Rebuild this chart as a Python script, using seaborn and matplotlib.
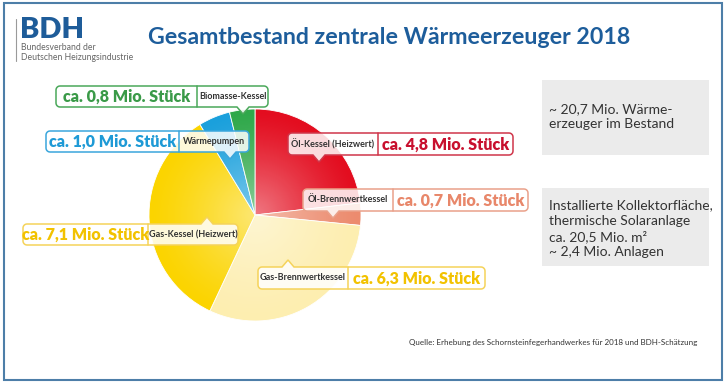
import numpy as np
import matplotlib.pyplot as plt
import seaborn as sns
from matplotlib.patches import Polygon, Rectangle, Circle

sns.set_theme(style="white")
plt.rcParams["font.family"] = ["Lato", "DejaVu Sans"]

# data
categories = ["Öl-Kessel (Heizwert)", "Öl-Brennwertkessel", "Gas-Brennwertkessel",
              "Gas-Kessel (Heizwert)", "Wärmepumpen", "Biomasse-Kessel"]
values = [4.8, 0.7, 6.3, 7.1, 1.0, 0.8]
slice_colors = ["#e30d1f", "#ec8b6e", "#fdeeb0", "#fbd400", "#1aa0dc", "#2fa84a"]
text_colors = ["#c8102e", "#e8876a", "#f2c200", "#f2c200", "#1e9ad6", "#3a9a48"]
edge_colors = ["#d0364a", "#eaa18a", "#f5d35a", "#f5d35a", "#3aa6dc", "#4aa85a"]
info_1 = ["~ 20,7 Mio. Wärme-", "erzeuger im Bestand"]
info_2 = ["Installierte Kollektorfläche,", "thermische Solaranlage",
          "ca. 20,5 Mio. m²", "~ 2,4 Mio. Anlagen"]

W, H = 728, 383
fig = plt.figure(figsize=(W / 100, H / 100), dpi=100)
ax = fig.add_axes([0, 0, 1, 1])


def Y(y):
    # pixel row (top down) -> data y
    return H - y


cx, cy, r = 255, 215, 106
wedges, _ = ax.pie(values, colors=slice_colors, startangle=90, counterclock=False,
                   center=(cx, Y(cy)), radius=r,
                   wedgeprops=dict(edgecolor="white", linewidth=0.6))

# soft light in the middle of the pie
gx, gy = np.meshgrid(np.linspace(-1, 1, 300), np.linspace(-1, 1, 300))
d = np.clip(np.hypot(gx, gy), 0, 1)
shade = np.ones((300, 300, 4))
shade[..., 3] = 0.45 * (1 - d) ** 1.3
im = ax.imshow(shade, extent=[cx - r, cx + r, Y(cy) - r, Y(cy) + r], zorder=2,
               interpolation="bilinear")
im.set_clip_path(Circle((cx, Y(cy)), r, transform=ax.transData))


def tag_outline(x0, y0, x1, y1, px, side, rad=4, pw=6, ph=7):
    pts = []

    def arc(ccx, ccy, a0, a1):
        for t in np.radians(np.linspace(a0, a1, 7)):
            pts.append((ccx + rad * np.cos(t), ccy + rad * np.sin(t)))

    arc(x0 + rad, y0 + rad, 180, 270)
    if side == "top":
        pts += [(px - pw, y0), (px, y0 - ph), (px + pw, y0)]
    arc(x1 - rad, y0 + rad, 270, 360)
    arc(x1 - rad, y1 - rad, 0, 90)
    if side == "bottom":
        pts += [(px + pw, y1), (px, y1 + ph), (px - pw, y1)]
    arc(x0 + rad, y1 - rad, 90, 180)
    return [(x, Y(y)) for x, y in pts]


# tag layout: x0, x1, divider, y0, y1, pointer x, pointer side, name first?
tags = [
    (288, 513, 378, 133, 155, 319, "bottom", True),
    (303, 528, 393, 189, 211, 333, "bottom", True),
    (258, 485, 348, 267, 289, 288, "top", True),
    (23, 238, 148, 224, 245, 207, "top", False),
    (46, 249, 179, 131, 152, 230, "bottom", False),
    (56, 268, 197, 86, 107, 243, "bottom", False),
]

for i, (x0, x1, xd, y0, y1, px, side, name_first) in enumerate(tags):
    poly = Polygon(tag_outline(x0, y0, x1, y1, px, side), closed=True,
                   facecolor=(1, 1, 1, 0.85), edgecolor=edge_colors[i], lw=1.1, zorder=4)
    ax.add_patch(poly)
    ax.plot([xd, xd], [Y(y0), Y(y1)], color=edge_colors[i], lw=1.1, zorder=5)
    num = f"{values[i]:.1f}".replace(".", ",")
    value_txt = f"ca. {num} Mio. Stück"
    ym = Y((y0 + y1) / 2)
    if name_first:
        nx, vx = (x0 + xd) / 2, (xd + x1) / 2
    else:
        vx, nx = (x0 + xd) / 2, (xd + x1) / 2
    ax.text(nx, ym, categories[i], ha="center", va="center", fontsize=6.5,
            fontweight="bold", color="#333333", zorder=6)
    ax.text(vx, ym - 0.5, value_txt, ha="center", va="center", fontsize=11.5,
            fontweight="heavy", color=text_colors[i], zorder=6)

# info boxes on the right
ax.add_patch(Rectangle((542, Y(155)), 167, 75, facecolor="#ebebeb", edgecolor="none"))
ax.add_patch(Rectangle((542, Y(266)), 167, 78, facecolor="#ebebeb", edgecolor="none"))
for k, line in enumerate(info_1):
    ax.text(549, Y(109 + 15.5 * k), line, ha="left", va="center", fontsize=10, color="#333333")
for k, line in enumerate(info_2):
    ax.text(549, Y(205 + 15.7 * k), line, ha="left", va="center", fontsize=10, color="#333333")

# header
ax.plot([16, 16], [Y(19), Y(61)], color="#9a9a9a", lw=0.8)
ax.text(20, Y(38), "BDH", ha="left", va="baseline", fontsize=21, fontweight="heavy",
        color="#1e5c99")
ax.text(21, Y(47), "Bundesverband der", ha="left", va="center", fontsize=6.2, color="#666666")
ax.text(21, Y(57), "Deutschen Heizungsindustrie", ha="left", va="center", fontsize=6.2,
        color="#666666")
ax.text(148, Y(37), "Gesamtbestand zentrale Wärmeerzeuger 2018", ha="left", va="center",
        fontsize=16.7, fontweight="bold", color="#1d5d9b")

ax.text(697, Y(343), "Quelle: Erhebung des Schornsteinfegerhandwerkes für 2018 und BDH-Schätzung",
        ha="right", va="center", fontsize=5.8, color="#333333")

# frame
ax.add_patch(Rectangle((4, Y(380)), 718, 377, facecolor="none", edgecolor="#4d7ea8", lw=1.5))

ax.set_xlim(0, W)
ax.set_ylim(0, H)
ax.set_aspect("auto")
ax.axis("off")
fig.savefig("out.png", dpi=100)
